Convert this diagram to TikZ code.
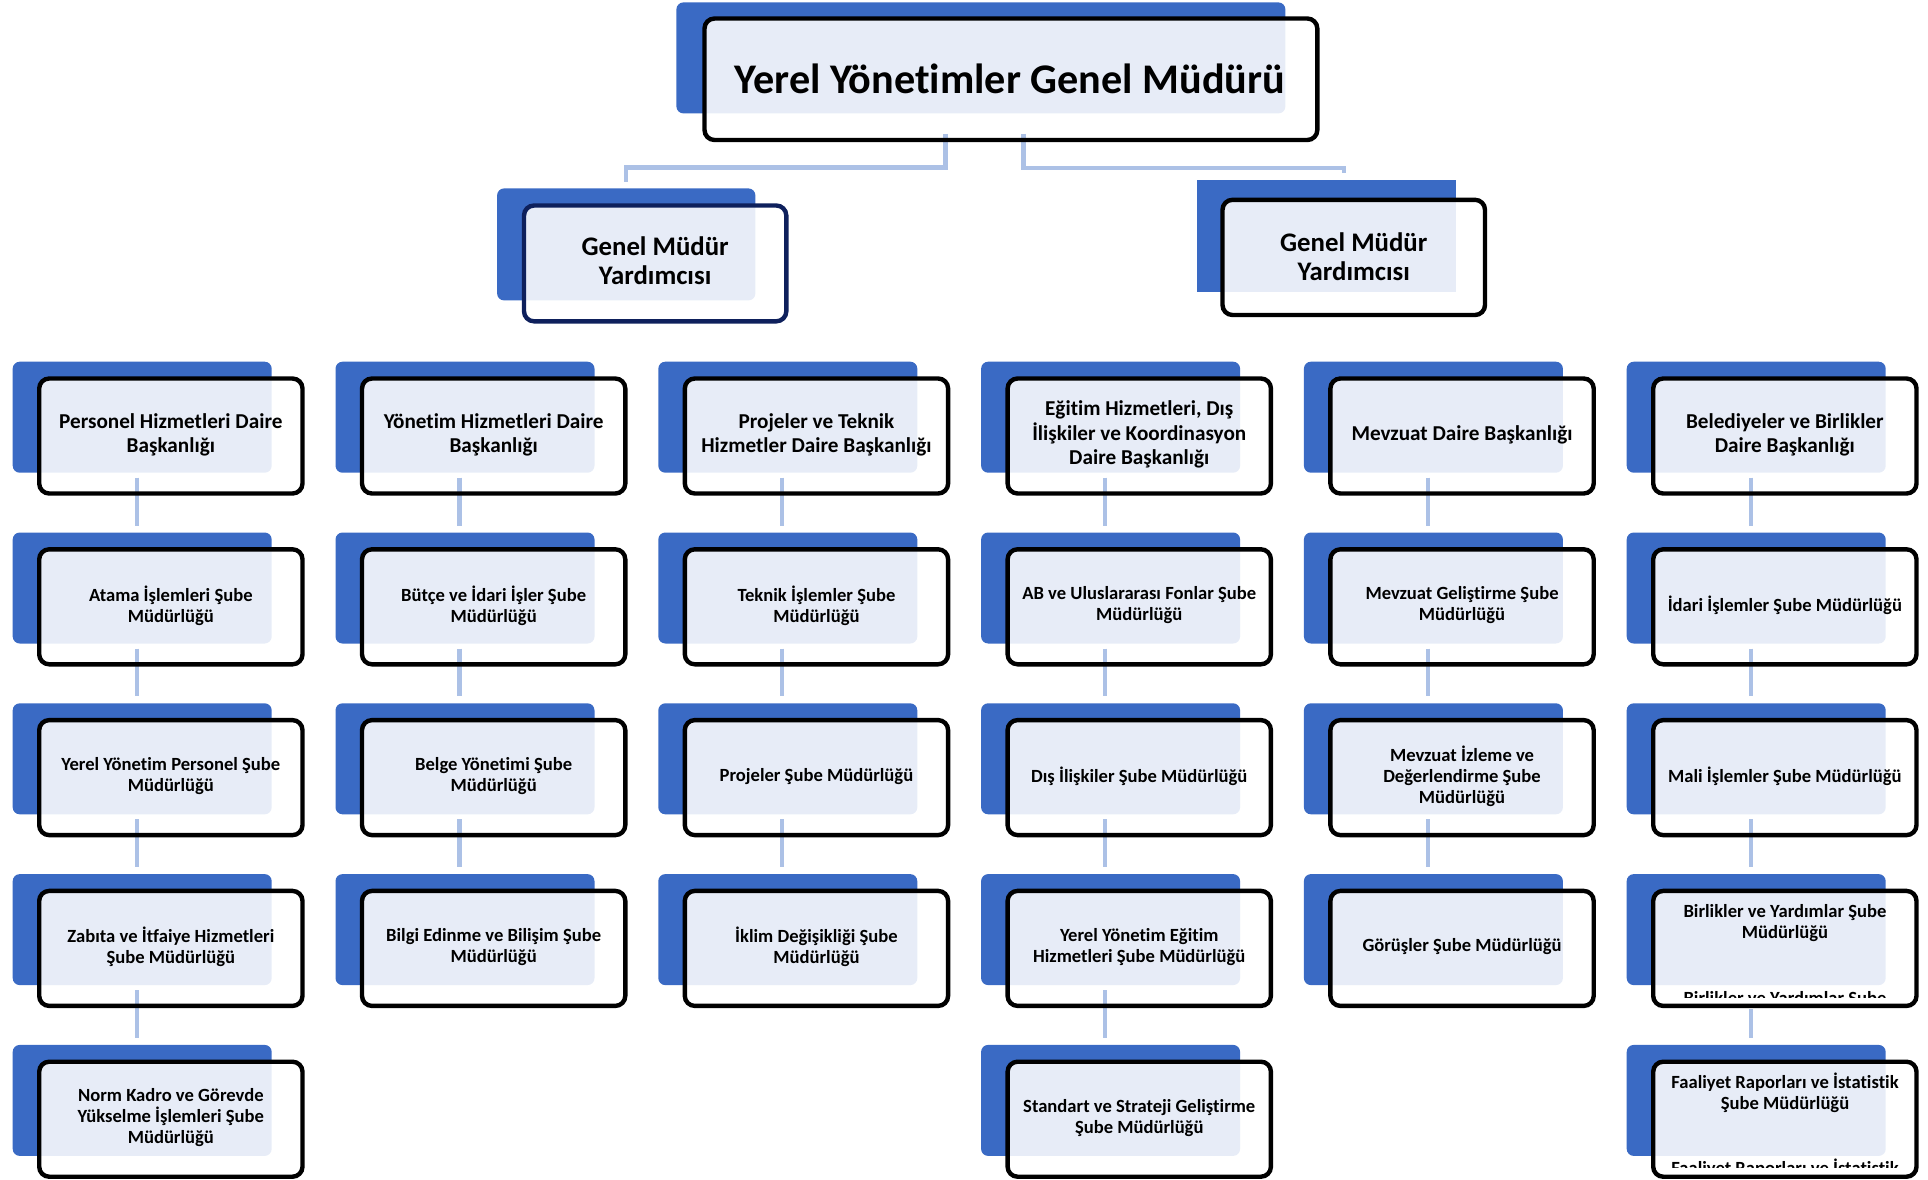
\documentclass[tikz,border=0pt]{standalone}
\usepackage{fontspec}
\setmainfont{Carlito}[Ligatures=NoCommon]
\usetikzlibrary{calc}
\pgfdeclarelayer{bg}
\pgfdeclarelayer{fg}
\pgfsetlayers{bg,main,fg}
\definecolor{blueC}{RGB}{58,106,196}
\definecolor{connC}{RGB}{172,193,230}
\definecolor{navyC}{RGB}{14,32,92}
\tikzset{
  bluebox/.style={fill=blueC, rounded corners=3.5pt, minimum width=129.5pt, minimum height=55.5pt, inner sep=0pt, outer sep=0pt},
  whitebox/.style={fill=white, fill opacity=0.88, rounded corners=5pt, minimum width=131.65pt, minimum height=57.5pt, inner sep=0pt, outer sep=0pt},
  frame/.style={draw=black, line width=2.2pt, rounded corners=5pt},
  conn/.style={draw=connC, line width=2.15pt},
  tone/.style={font=\bfseries\fontsize{10.6}{12.1}\selectfont, align=center, inner sep=0pt, text=black},
  ttwo/.style={font=\bfseries\fontsize{9.3}{10.5}\selectfont, align=center, inner sep=0pt, text=black},
  tgmy/.style={font=\bfseries\fontsize{13.4}{14.7}\selectfont, align=center, inner sep=0pt, text=black},
  ttitle/.style={font=\bfseries\fontsize{21.1}{23}\selectfont, inner sep=0pt, text=black},
}
% name, blue left x, blue top y, text, text style
\newcommand\orgunit[5]{%
  \begin{pgfonlayer}{bg}
    \node[bluebox, anchor=north west] (#1b) at (#2,#3) {};
    \node[whitebox, anchor=north west] (#1) at (#2+26.5,#3+16.8) {};
  \end{pgfonlayer}
  \begin{pgfonlayer}{fg}
    \draw[frame] (#1.north west) rectangle (#1.south east);
    \node[#5] (#1t) at ($(#1.center)+(0,-1.5)$) {#4};
  \end{pgfonlayer}}
\newcommand\vlink[2]{\draw[conn] ($(#1b.south)+(-5.5,5)$) -- ($(#2b.north)+(-5.5,-7)$);}
\begin{document}
\begin{tikzpicture}[x=0.5pt, y=-0.5pt]
\useasboundingbox (0,0) rectangle (1928,1179);
% ---------- top box ----------
\begin{pgfonlayer}{bg}
  \node[fill=blueC, rounded corners=3.5pt, minimum width=304.5pt, minimum height=55.5pt, inner sep=0pt, anchor=north west] (topb) at (676,2) {};
  \node[fill=white, fill opacity=0.88, rounded corners=5pt, minimum width=306pt, minimum height=60.35pt, inner sep=0pt, anchor=north west] (topk) at (704.5,18.5) {};
  % left GMY
  \node[fill=blueC, rounded corners=3.5pt, minimum width=129.15pt, minimum height=56pt, inner sep=0pt, anchor=north west] (glb) at (496.7,188) {};
  \node[fill=white, fill opacity=0.88, rounded corners=5pt, minimum width=130.75pt, minimum height=57.5pt, inner sep=0pt, anchor=north west] (gl) at (524,205.5) {};
  % right GMY
  \node[fill=blueC, minimum width=129.3pt, minimum height=55.85pt, inner sep=0pt, anchor=north west] (grb) at (1196.7,180) {};
  \node[fill=white, fill opacity=0.88, rounded corners=5pt, minimum width=130.85pt, minimum height=57.2pt, inner sep=0pt, anchor=north west] (gr) at (1222.5,199.8) {};
\end{pgfonlayer}
\begin{pgfonlayer}{fg}
  \draw[frame] (topk.north west) rectangle (topk.south east);
  \node[ttitle, anchor=base] (topt) at (1010,93) {Yerel Yönetimler Genel Müdürü};
  \draw[frame, draw=navyC] (gl.north west) rectangle (gl.south east);
  \node[tgmy] (glt) at ($(gl.center)+(0,-2.5)$) {Genel Müdür\\Yardımcısı};
  \draw[frame] (gr.north west) rectangle (gr.south east);
  \node[tgmy] (grt) at ($(gr.center)+(0,-1)$) {Genel Müdür\\Yardımcısı};
\end{pgfonlayer}
\draw[conn] ($(topk.south west)+(241,-6.2)$) -- ++(0,33.7) -| ($(glb.north)+(0,-6.3)$);
\draw[conn] ($(topk.south west)+(318.9,-6.2)$) -- ++(0,34.3) -| ($(grb.north)+(17.3,-6.7)$);
% ---------- column 1 ----------
\orgunit{aa}{12.7}{361.7}{Personel Hizmetleri Daire\\Başkanlığı}{tone}
\orgunit{ab}{12.7}{532.5}{Atama İşlemleri Şube\\Müdürlüğü}{ttwo}
\orgunit{ac}{12.7}{703.3}{Yerel Yönetim Personel Şube\\Müdürlüğü}{ttwo}
\orgunit{ad}{12.7}{874.1}{Zabıta ve İtfaiye Hizmetleri\\Şube Müdürlüğü}{ttwo}
\orgunit{ae}{12.7}{1044.9}{Norm Kadro ve Görevde\\Yükselme İşlemleri Şube\\Müdürlüğü}{ttwo}
\vlink{aa}{ab}\vlink{ab}{ac}\vlink{ac}{ad}\vlink{ad}{ae}
% ---------- column 2 ----------
\orgunit{ba}{335.5}{361.7}{Yönetim Hizmetleri Daire\\Başkanlığı}{tone}
\orgunit{bb}{335.5}{532.5}{Bütçe ve İdari İşler Şube\\Müdürlüğü}{ttwo}
\orgunit{bc}{335.5}{703.3}{Belge Yönetimi Şube\\Müdürlüğü}{ttwo}
\orgunit{bd}{335.5}{874.1}{Bilgi Edinme ve Bilişim Şube\\Müdürlüğü}{ttwo}
\vlink{ba}{bb}\vlink{bb}{bc}\vlink{bc}{bd}
% ---------- column 3 ----------
\orgunit{ca}{658.3}{361.7}{Projeler ve Teknik\\Hizmetler Daire Başkanlığı}{tone}
\orgunit{cb}{658.3}{532.5}{Teknik İşlemler Şube\\Müdürlüğü}{ttwo}
\orgunit{cc}{658.3}{703.3}{Projeler Şube Müdürlüğü}{ttwo}
\orgunit{cd}{658.3}{874.1}{İklim Değişikliği Şube\\Müdürlüğü}{ttwo}
\vlink{ca}{cb}\vlink{cb}{cc}\vlink{cc}{cd}
% ---------- column 4 ----------
\orgunit{da}{981.1}{361.7}{Eğitim Hizmetleri, Dış\\İlişkiler ve Koordinasyon\\Daire Başkanlığı}{tone}
\orgunit{db}{981.1}{532.5}{AB ve Uluslararası Fonlar Şube\\Müdürlüğü}{ttwo}
\orgunit{dc}{981.1}{703.3}{Dış İlişkiler Şube Müdürlüğü}{ttwo}
\orgunit{dd}{981.1}{874.1}{Yerel Yönetim Eğitim\\Hizmetleri Şube Müdürlüğü}{ttwo}
\orgunit{de}{981.1}{1044.9}{Standart ve Strateji Geliştirme\\Şube Müdürlüğü}{ttwo}
\vlink{da}{db}\vlink{db}{dc}\vlink{dc}{dd}\vlink{dd}{de}
% ---------- column 5 ----------
\orgunit{ea}{1303.9}{361.7}{Mevzuat Daire Başkanlığı}{tone}
\orgunit{eb}{1303.9}{532.5}{Mevzuat Geliştirme Şube\\Müdürlüğü}{ttwo}
\orgunit{ec}{1303.9}{703.3}{Mevzuat İzleme ve\\Değerlendirme Şube\\Müdürlüğü}{ttwo}
\orgunit{ed}{1303.9}{874.1}{Görüşler Şube Müdürlüğü}{ttwo}
\vlink{ea}{eb}\vlink{eb}{ec}\vlink{ec}{ed}
% ---------- column 6 ----------
\orgunit{fa}{1626.7}{361.7}{Belediyeler ve Birlikler\\Daire Başkanlığı}{tone}
\orgunit{fb}{1626.7}{532.5}{İdari İşlemler Şube Müdürlüğü}{ttwo}
\orgunit{fc}{1626.7}{703.3}{Mali İşlemler Şube Müdürlüğü}{ttwo}
\orgunit{fd}{1626.7}{874.1}{}{ttwo}
\orgunit{fe}{1626.7}{1044.9}{}{ttwo}
\vlink{fa}{fb}\vlink{fb}{fc}\vlink{fc}{fd}
\draw[conn] ($(fdb.south)+(-5.5,24)$) -- ($(feb.north)+(-5.5,-7)$);
\begin{pgfonlayer}{fg}
  \node[ttwo, anchor=base] (fdx) at (1785,938.5) {Birlikler ve Yardımlar Şube\\Müdürlüğü};
  \node[ttwo, anchor=base] (fex) at (1785,1109.5) {Faaliyet Raporları ve İstatistik\\Şube Müdürlüğü};
  \begin{scope}
    \clip (1660,980) rectangle (1910,997);
    \node[ttwo, anchor=base] (fdy) at (1785,1004) {Birlikler ve Yardımlar Şube};
  \end{scope}
  \begin{scope}
    \clip (1660,1150) rectangle (1910,1167);
    \node[ttwo, anchor=base] (fey) at (1785,1174) {Faaliyet Raporları ve İstatistik};
  \end{scope}
\end{pgfonlayer}
\end{tikzpicture}
\end{document}
